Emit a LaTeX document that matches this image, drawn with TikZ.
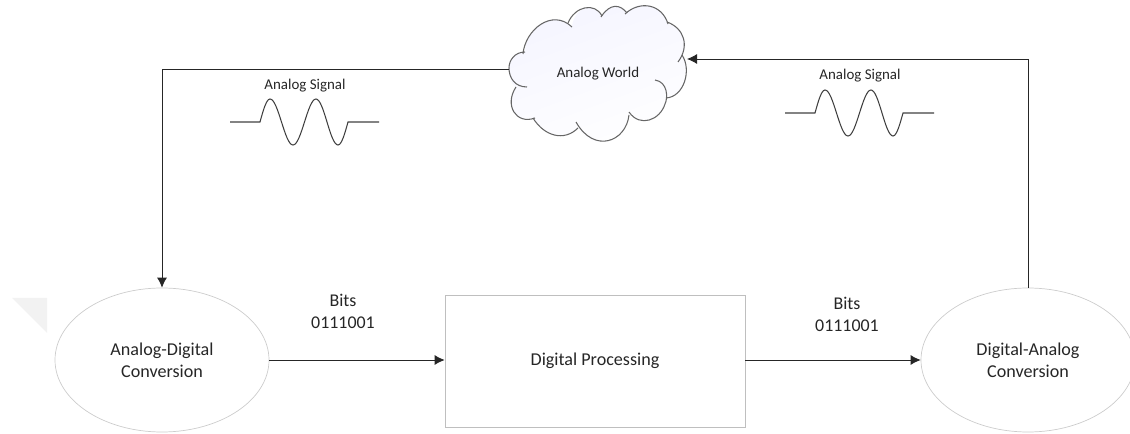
\documentclass[tikz,border=0pt]{standalone}
\usepackage{fontspec}
\setmainfont{Carlito}
\usetikzlibrary{shapes.geometric,arrows.meta}
\tikzset{
  convnode/.style={draw=black!20,ellipse,minimum width=4.28cm,minimum height=2.88cm,inner sep=0pt,align=center,font=\fontsize{10.3}{12.5}\selectfont,text=black!85},
  procnode/.style={draw=black!25,minimum width=6cm,minimum height=2.64cm,inner sep=0pt,font=\fontsize{10.3}{12.5}\selectfont,text=black!85},
  bitslabel/.style={align=center,font=\fontsize{10.2}{12.5}\selectfont,text=black!85},
  smalllabel/.style={font=\fontsize{8.5}{10}\selectfont,text=black!85},
  flow/.style={-{Latex[length=2mm,width=2mm]},line width=0.5pt,color=black!85},
  cloudline/.style={line width=0.6pt,color=black!60},
  wave/.style={line width=0.6pt,color=black!75}
}
\begin{document}
\begin{tikzpicture}[x=0.2mm,y=-0.2mm]
  \clip (0,0) rectangle (1130,434);

  % Watermark
  \fill[black!5] (12,298) -- (47,298) -- (47,333) -- cycle;

  % Cloud
  \shade[left color=blue!4,right color=white,shading angle=20]
    (509,68) .. controls (509,60) and (515,52) .. (525,52)
    .. controls (525,30) and (552,8) .. (572,26)
    .. controls (575,6) and (595,2) .. (602,16)
    .. controls (610,3) and (620,4) .. (627,12)
    .. controls (640,0) and (662,4) .. (668,24)
    .. controls (684,28) and (690,46) .. (682,55)
    .. controls (692,70) and (684,97) .. (666,98)
    .. controls (666,112) and (648,130) .. (629,115)
    .. controls (626,142) and (594,154) .. (578,128)
    .. controls (564,142) and (544,136) .. (533,118)
    .. controls (516,125) and (504,105) .. (515,87)
    .. controls (511,84) and (509,76) .. (509,68) -- cycle;
  \draw[cloudline] (527,87) .. controls (515,87) and (509,78) .. (509,68) .. controls (509,60) and (515,52) .. (525,52);
  \draw[cloudline] (523,54) .. controls (525,30) and (552,8) .. (572,27);
  \draw[cloudline] (568,23) .. controls (575,6) and (595,2) .. (602,16);
  \draw[cloudline] (601,17) .. controls (610,3) and (620,4) .. (627,13);
  \draw[cloudline] (625,14) .. controls (640,0) and (662,4) .. (668,24);
  \draw[cloudline] (667,22) .. controls (684,28) and (690,46) .. (678,62);
  \draw[cloudline] (682,55) .. controls (692,70) and (684,97) .. (666,98);
  \draw[cloudline] (655,80) .. controls (668,82) and (668,98) .. (665,104) .. controls (660,120) and (640,128) .. (629,112);
  \draw[cloudline] (629,115) .. controls (626,142) and (594,154) .. (576,122);
  \draw[cloudline] (578,128) .. controls (564,142) and (544,136) .. (533,118);
  \draw[cloudline] (535,118) .. controls (516,125) and (504,105) .. (516,87);

  % Nodes
  \node[smalllabel] (world) at (598,74) {Analog World};
  \coordinate (worldin) at (687,59);
  \coordinate (worldout) at (509,69);
  \node[convnode] (adc) at (162,360) {Analog-Digital\\Conversion};
  \node[procnode] (proc) at (595,361) {Digital Processing};
  \node[convnode] (dac) at (1028,360) {Digital-Analog\\Conversion};

  % Connectors
  \draw[flow] (worldout) -| (adc.north);
  \draw[flow] (adc.east) -- (adc.east -| proc.west);
  \draw[flow] (proc.east |- dac.west) -- (dac.west);
  \draw[flow] (dac.north) |- (worldin);

  % Labels
  \node[bitslabel] (bitsa) at (343,311) {Bits\\0111001};
  \node[bitslabel] (bitsb) at (847,314) {Bits\\0111001};
  \node[smalllabel] (signala) at (305,86) {Analog Signal};
  \node[smalllabel] (signalb) at (860,76) {Analog Signal};

  % Left wave
  \draw[wave] (230,122) -- (260,122) sin (270,99) cos (281.5,122) sin (293,145) cos (304.5,122) sin (316,99) cos (327,122) sin (338,145) cos (348,122) -- (379,122);

  % Right wave
  \draw[wave] (785,113) -- (815,113) sin (825,90) cos (836.5,113) sin (848,136) cos (859.5,113) sin (871,90) cos (882,113) sin (893,136) cos (903,113) -- (934,113);
\end{tikzpicture}
\end{document}
